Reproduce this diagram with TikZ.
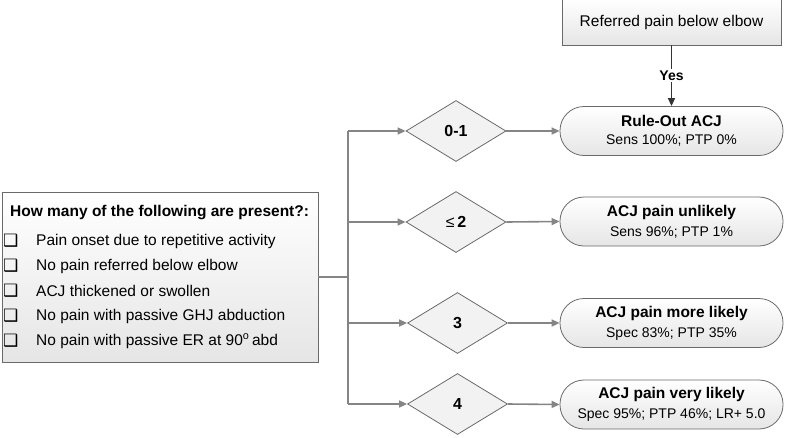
\documentclass[tikz,border=0pt]{standalone}
\usepackage{fontspec}
\setmainfont{Liberation Sans}
\newfontfamily\symfont{DejaVu Sans}
\usetikzlibrary{shapes.geometric,arrows.meta}
\definecolor{linegray}{HTML}{858585}
\definecolor{bordergray}{HTML}{6A6A6A}
\begin{document}
\begin{tikzpicture}[x=1pt,y=-1pt,
  flow/.style={draw=linegray,line width=1.6pt,-{Triangle[length=8pt,width=7pt]}},
  plainline/.style={draw=linegray,line width=1.6pt},
  shadebox/.style={draw=bordergray,line width=0.8pt,top color=white,bottom color=black!10},
  decision/.style={diamond,draw=bordergray,line width=0.8pt,fill=black!5,minimum width=100pt,minimum height=61pt,inner sep=0pt,font=\fontsize{16}{18}\selectfont\bfseries},
  result/.style={shadebox,rectangle,rounded corners=24pt,minimum width=223pt,minimum height=49pt,inner sep=0pt,align=center},
  item/.style={anchor=west,inner sep=0pt,font=\fontsize{15.5}{17}\selectfont},
  chk/.style={anchor=west,inner sep=0pt,font=\symfont\bfseries\fontsize{17}{18}\selectfont},
]
\useasboundingbox (0,0) rectangle (785,437);

% left question box
\node[shadebox,rectangle,minimum width=316pt,minimum height=170pt,inner sep=0pt] (q) at (160,277) {};
\node[anchor=west,inner sep=0pt,font=\fontsize{15.5}{17}\selectfont\bfseries] (qt) at (10,213) {How many of the following are present?:};
\node[chk] (c1) at (3,241) {❑};
\node[item] (i1) at (36,241) {Pain onset due to repetitive activity};
\node[chk] (c2) at (3,266) {❑};
\node[item] (i2) at (36,266) {No pain referred below elbow};
\node[chk] (c3) at (3,291) {❑};
\node[item] (i3) at (36,291) {ACJ thickened or swollen};
\node[chk] (c4) at (3,316) {❑};
\node[item] (i4) at (36,316) {No pain with passive GHJ abduction};
\node[chk] (c5) at (3,341) {❑};
\node[item] (i5) at (36,341) {No pain with passive ER at 90\textsuperscript{o}\,abd};

% branching
\coordinate (j) at (348,277);
\coordinate (j1) at (348,131);
\coordinate (j2) at (348,222);
\coordinate (j3) at (348,323);
\coordinate (j4) at (348,404);

\node[decision] (d1) at (456,131) {0-1};
\node[decision] (d2) at (456,222) {{\mdseries ≤}\,2};
\node[decision] (d3) at (457.5,323) {3};
\node[decision] (d4) at (457.5,404) {4};

\draw[plainline] (q.east |- j) -- (j);
\draw[plainline] (j1) -- (j4);
\draw[flow] (j1) -- (d1.west);
\draw[flow] (j2) -- (d2.west);
\draw[flow] (j3) -- (d3.west);
\draw[flow] (j4) -- (d4.west);

% results
\node[result] (r1) at (671.5,131) {{\fontsize{15.5}{17}\selectfont\bfseries Rule-Out ACJ}\\[6pt]{\fontsize{14}{15}\selectfont Sens 100\%; PTP 0\%}};
\node[result] (r2) at (671.5,221.5) {{\fontsize{15.5}{17}\selectfont\bfseries ACJ pain unlikely}\\[6pt]{\fontsize{14}{15}\selectfont Sens 96\%; PTP 1\%}};
\node[result] (r3) at (671.5,323) {{\fontsize{15.5}{17}\selectfont\bfseries ACJ pain more likely}\\[6pt]{\fontsize{14}{15}\selectfont Spec 83\%; PTP 35\%}};
\node[result] (r4) at (671.5,404.5) {{\fontsize{15.5}{17}\selectfont\bfseries ACJ pain very likely}\\[6pt]{\fontsize{14}{15}\selectfont Spec 95\%; PTP 46\%; LR+ 5.0}};

\draw[flow] (d1.east) -- (r1.west);
\draw[flow] (d2.east) -- (r2.west);
\draw[flow] (d3.east) -- (r3.west);
\draw[flow] (d4.east) -- (r4.west);

% top box
\node[shadebox,rectangle,minimum width=219pt,minimum height=46pt,inner sep=0pt,font=\fontsize{15.5}{17}\selectfont] (top) at (671.5,22) {Referred pain below elbow};
\draw[draw=black!80,line width=1.4pt,-{Triangle[length=8pt,width=7pt]}] (top.south) -- node[fill=white,inner sep=1.5pt,font=\fontsize{14}{15}\selectfont\bfseries] (yes) {Yes} (r1.north);
\end{tikzpicture}
\end{document}
